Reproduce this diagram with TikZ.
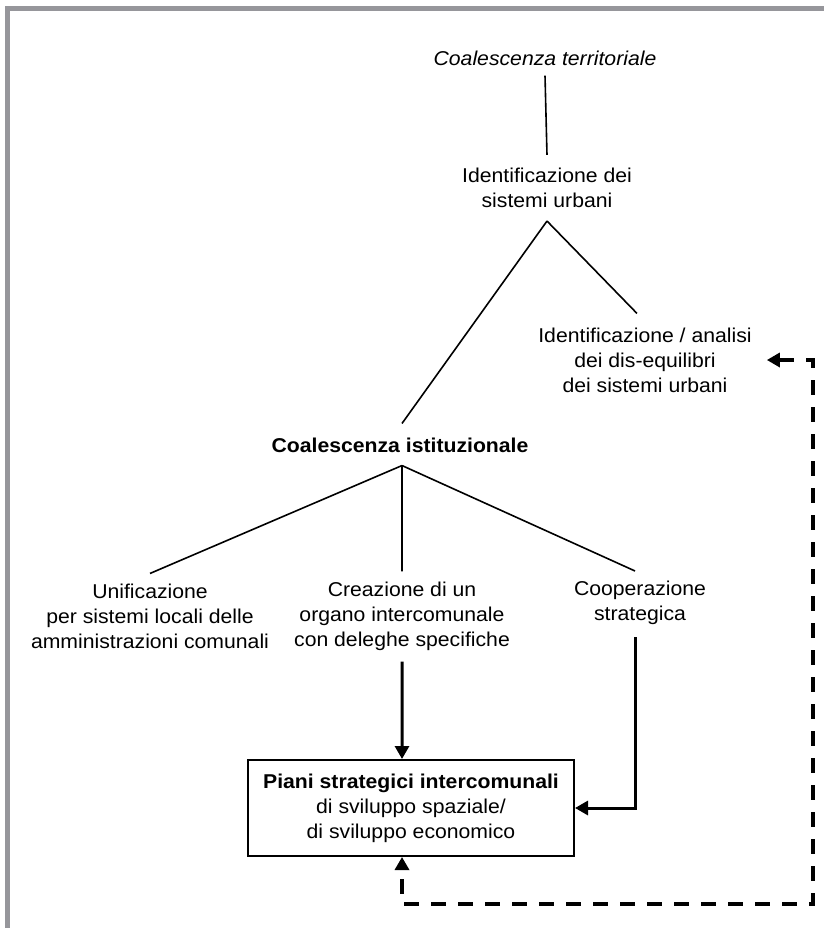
\documentclass[tikz,border=0pt]{standalone}
\usepackage{fontspec}
\setmainfont{Liberation Sans}[FakeStretch=1.06]
\usetikzlibrary{arrows.meta}
\definecolor{framegray}{RGB}{150,150,155}
\begin{document}
\begin{tikzpicture}[x=1bp,y=-1bp,
  lbl/.style={align=center, inner sep=0pt, font=\fontsize{20bp}{25bp}\selectfont},
  branch/.style={line width=1.6bp},
  flow/.style={line width=3bp, -{Triangle[length=13bp,width=14bp]}},
  feedback/.style={line width=4bp, dash pattern=on 15bp off 12bp,
    {Triangle[length=13bp,width=14bp]}-{Triangle[length=13bp,width=14bp]}},
  planbox/.style={draw, line width=2bp, minimum width=326bp, minimum height=96bp,
    align=center, inner sep=0pt, font=\fontsize{20bp}{25bp}\selectfont}]
\useasboundingbox (0,0) rectangle (824,928);
\clip (0,0) rectangle (824,928);
\fill[white] (0,0) rectangle (824,928);
% outer frame (top and left edges)
\draw[framegray, line width=5bp] (7.5,940) -- (7.5,8.5) -- (840,8.5);

% labels
\node[lbl] (terr) at (545,58) {\itshape Coalescenza territoriale};
\node[lbl] (isu) at (547,188) {Identificazione dei\\sistemi urbani};
\node[lbl] (ida) at (645,360) {Identificazione / analisi\\dei dis-equilibri\\dei sistemi urbani};
\node[lbl] (ist) at (400,445) {\bfseries Coalescenza istituzionale};
\node[lbl] (unif) at (150,616) {Unificazione\\per sistemi locali delle\\amministrazioni comunali};
\node[lbl] (crea) at (402,616) {Creazione di un\\organo intercomunale\\con deleghe specifiche};
\node[lbl] (coop) at (640,603) {Cooperazione\\strategica};
\node[planbox] (piani) at (411,808) {\textbf{Piani strategici intercomunali}\\di sviluppo spaziale/\\di sviluppo economico};

% tree branches
\coordinate (apexA) at ([yshift=-13bp]isu.south);
\coordinate (apexB) at ([xshift=2bp,yshift=-13bp]ist.south);
\draw[branch] ([yshift=-10bp]terr.south) -- ([yshift=13bp]isu.north);
\draw[branch] (apexA) -- ([xshift=2bp,yshift=14bp]ist.north);
\draw[branch] (apexA) -- ([xshift=-8bp,yshift=14bp]ida.north);
\draw[branch] (apexB) -- ([yshift=10bp]unif.north);
\draw[branch] (apexB) -- ([yshift=10bp]crea.north);
\draw[branch] (apexB) -- ([xshift=-5bp,yshift=10bp]coop.north);

% flows into the plan box
\draw[flow] ([yshift=-11bp]crea.south) -- ([xshift=-9bp]piani.north);
\draw[flow] ([xshift=-5bp,yshift=-12bp]coop.south) |- (piani.east);

% feedback loop
\draw[feedback] ([xshift=15bp]ida.east) -- ++(46,0) |- ([xshift=-9bp,yshift=-47bp]piani.south) -- ([xshift=-9bp]piani.south);
\end{tikzpicture}
\end{document}
